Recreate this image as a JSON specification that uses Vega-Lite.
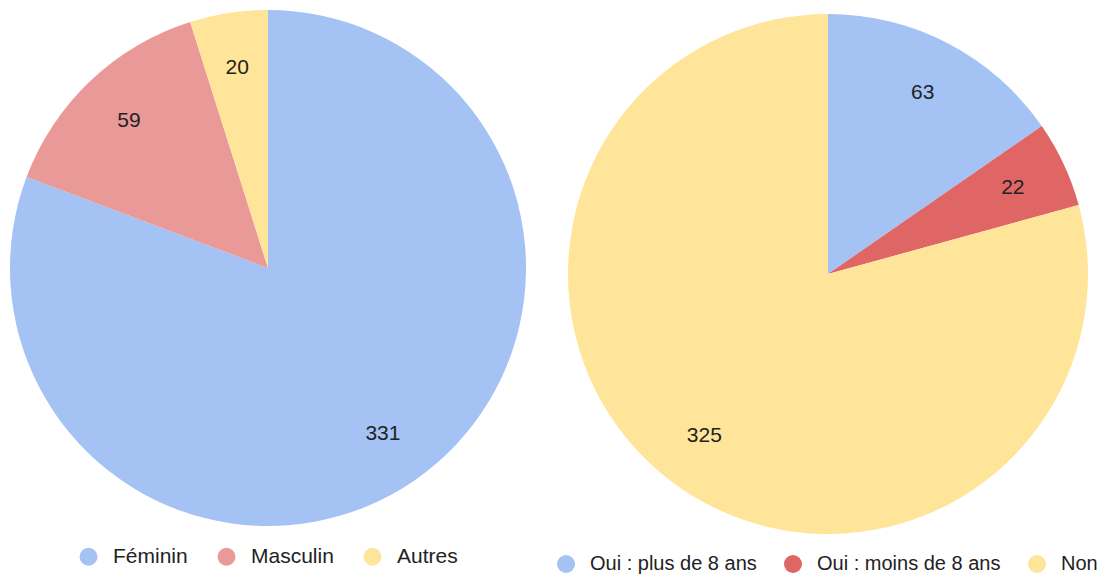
{
  "$schema": "https://vega.github.io/schema/vega-lite/v6.json",
  "padding": 0,
  "spacing": 20,
  "background": "white",
  "config": {
    "view": {"stroke": null},
    "font": "Liberation Sans",
    "legend": {
      "orient": "none",
      "direction": "horizontal",
      "title": null,
      "symbolType": "circle",
      "symbolSize": 324,
      "symbolStrokeWidth": 0,
      "labelFontSize": 21,
      "labelColor": "#222222",
      "labelOffset": 14,
      "labelLimit": 500,
      "columnPadding": 28,
      "padding": 0
    }
  },
  "resolve": {"scale": {"color": "independent"}},
  "hconcat": [
    {
      "width": 536,
      "height": 536,
      "data": {"values": [
        {"genre": "Féminin", "n": 331, "ordre": 1},
        {"genre": "Masculin", "n": 59, "ordre": 2},
        {"genre": "Autres", "n": 20, "ordre": 3}
      ]},
      "encoding": {
        "theta": {"field": "n", "type": "quantitative", "stack": true},
        "order": {"field": "ordre", "type": "quantitative"},
        "color": {
          "field": "genre", "type": "nominal",
          "scale": {"domain": ["Féminin", "Masculin", "Autres"], "range": ["#a4c2f4", "#ea9999", "#ffe599"]},
          "legend": {"legendX": 78, "legendY": 546}
        }
      },
      "layer": [
        {"mark": {"type": "arc", "outerRadius": 258}},
        {"mark": {"type": "text", "radius": 202, "fontSize": 21, "fill": "#222222"},
         "encoding": {"text": {"field": "n", "type": "quantitative"}, "color": {"value": "#222222"}}}
      ]
    },
    {
      "width": 540,
      "height": 548,
      "data": {"values": [
        {"reponse": "Oui : plus de 8 ans", "n": 63, "ordre": 1},
        {"reponse": "Oui : moins de 8 ans", "n": 22, "ordre": 2},
        {"reponse": "Non", "n": 325, "ordre": 3}
      ]},
      "encoding": {
        "theta": {"field": "n", "type": "quantitative", "stack": true},
        "order": {"field": "ordre", "type": "quantitative"},
        "color": {
          "field": "reponse", "type": "nominal",
          "scale": {"domain": ["Oui : plus de 8 ans", "Oui : moins de 8 ans", "Non"], "range": ["#a4c2f4", "#e06666", "#ffe599"]},
          "legend": {"legendX": -2, "legendY": 554, "labelFontSize": 20, "columnPadding": 26}
        }
      },
      "layer": [
        {"mark": {"type": "arc", "outerRadius": 260}},
        {"mark": {"type": "text", "radius": 204, "fontSize": 21, "fill": "#222222"},
         "encoding": {"text": {"field": "n", "type": "quantitative"}, "color": {"value": "#222222"}}}
      ]
    }
  ]
}
